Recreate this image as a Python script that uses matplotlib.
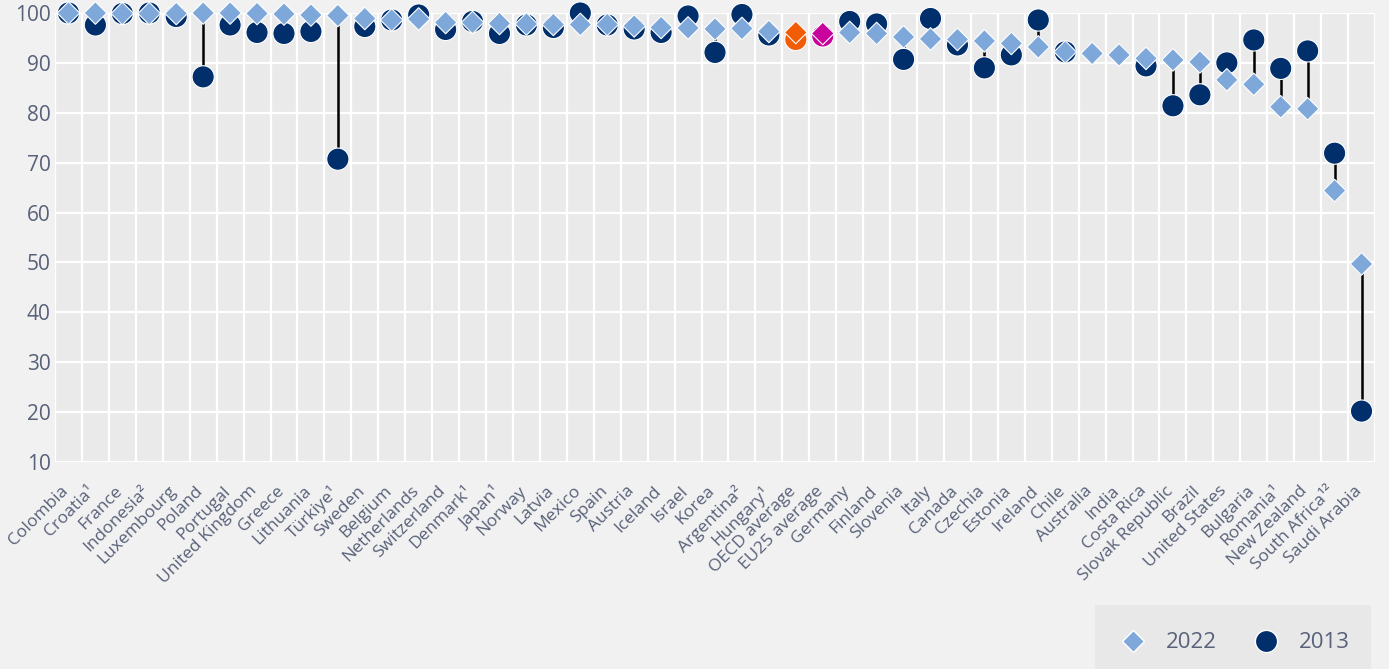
import numpy as np
import matplotlib.pyplot as plt
from matplotlib.patches import Rectangle
from matplotlib.lines import Line2D
from matplotlib.transforms import ScaledTranslation

plt.rcParams['font.family'] = ['Open Sans', 'DejaVu Sans']

countries = ["Colombia", "Croatia¹", "France", "Indonesia²", "Luxembourg", "Poland",
             "Portugal", "United Kingdom", "Greece", "Lithuania", "Türkiye¹", "Sweden",
             "Belgium", "Netherlands", "Switzerland", "Denmark¹", "Japan¹", "Norway",
             "Latvia", "Mexico", "Spain", "Austria", "Iceland", "Israel", "Korea",
             "Argentina²", "Hungary¹", "OECD average", "EU25 average", "Germany",
             "Finland", "Slovenia", "Italy", "Canada", "Czechia", "Estonia", "Ireland",
             "Chile", "Australia", "India", "Costa Rica", "Slovak Republic", "Brazil",
             "United States", "Bulgaria", "Romania¹", "New Zealand", "South Africa¹²",
             "Saudi Arabia"]

v2022 = [100.0, 100.0, 99.9, 99.9, 99.9, 100.0, 100.0, 99.9, 99.8, 99.6, 99.5, 98.9,
         98.6, 98.8, 98.1, 98.1, 97.9, 97.8, 97.7, 97.7, 97.7, 97.4, 97.1, 97.0, 96.8,
         96.9, 96.3, 96.1, 95.9, 96.1, 95.9, 95.2, 94.8, 94.7, 94.4, 93.9, 93.2,
         92.2, 91.9, 91.6, 90.9, 90.6, 90.2, 86.6, 85.7, 81.2, 80.8, 64.4, 49.7]

v2013 = [100.0, 97.6, 99.9, 100.0, 99.3, 87.2, 97.6, 96.1, 95.9, 96.3, 70.7, 97.3,
         98.6, 99.6, 96.7, 98.3, 95.9, 97.6, 97.1, 100.0, 97.6, 96.8, 96.1, 99.4, 92.1,
         99.7, 95.6, 94.7, 95.4, 98.3, 97.8, 90.7, 98.9, 93.6, 89.0, 91.6, 98.6,
         92.2, np.nan, np.nan, 89.4, 81.4, 83.6, 90.0, 94.6, 88.9, 92.4, 71.9, 20.2]

yticks = [10, 20, 30, 40, 50, 60, 70, 80, 90, 100]

light_blue = '#7FA8DA'
navy = '#002F6C'
text_col = '#586179'

c22 = [light_blue] * len(countries)
c13 = [navy] * len(countries)
c22[countries.index("OECD average")] = '#F25C05'
c13[countries.index("OECD average")] = '#F25C05'
c22[countries.index("EU25 average")] = '#C8009C'
c13[countries.index("EU25 average")] = '#C8009C'

x = np.arange(len(countries))
a22 = np.array(v2022)
a13 = np.array(v2013)

fig = plt.figure(figsize=(13.89, 6.69), dpi=100)
fig.patch.set_facecolor('#F1F1F1')
ax = fig.add_axes([55 / 1389, 207 / 669, 1320 / 1389, 449 / 669])
ax.set_facecolor('#EAEAEA')

# verbindungslinien
has13 = ~np.isnan(a13)
ax.vlines(x[has13], a13[has13], a22[has13], color='black', lw=1.8, zorder=2)

ax.scatter(x[has13], a13[has13], s=16 ** 2, marker='o',
           c=[c for c, h in zip(c13, has13) if h],
           edgecolors='white', linewidths=0.8, zorder=3, clip_on=False)
ax.scatter(x, a22, s=11.5 ** 2, marker='D', c=c22,
           edgecolors='white', linewidths=0.8, zorder=4, clip_on=False)

ax.set_xlim(-0.5, len(countries) - 0.5)
ax.set_ylim(10, 100)
ax.set_yticks(yticks)
ax.set_xticks(x)
ax.set_xticklabels(countries, rotation=45, ha='right', rotation_mode='anchor',
                   fontsize=12.5, color=text_col)
ax.tick_params(axis='y', length=0, pad=3, labelsize=15, labelcolor=text_col)
ax.tick_params(axis='x', length=0, pad=10)

# labels etwas nach links unten schieben
shift = ScaledTranslation(-8 / 100, -7 / 100, fig.dpi_scale_trans)
for lab in ax.get_xticklabels():
    lab.set_transform(lab.get_transform() + shift)

ax.set_xticks(np.arange(-0.5, len(countries)), minor=True)
ax.tick_params(axis='x', which='minor', length=0)
ax.grid(axis='x', which='minor', color='white', lw=1.6)
ax.grid(axis='y', which='major', color='white', lw=1.6)
ax.set_axisbelow(True)
for s in ax.spines.values():
    s.set_visible(False)

# legende
fig.patches.append(Rectangle((1095 / 1389, 0), 276 / 1389, 64 / 669,
                             transform=fig.transFigure, facecolor='#E8E8E8',
                             edgecolor='none', zorder=0))
handles = [Line2D([], [], ls='none', marker='D', markersize=11, color=light_blue,
                  markeredgecolor='white'),
           Line2D([], [], ls='none', marker='o', markersize=16, color=navy,
                  markeredgecolor='white')]
fig.legend(handles, ['2022', '2013'], ncol=2, frameon=False, fontsize=16,
           labelcolor=text_col, loc='center', handlelength=1.5, handletextpad=0.75,
           columnspacing=1.45, bbox_to_anchor=(1233 / 1389, 26 / 669))

fig.savefig('out.png', dpi=100, facecolor=fig.get_facecolor())
